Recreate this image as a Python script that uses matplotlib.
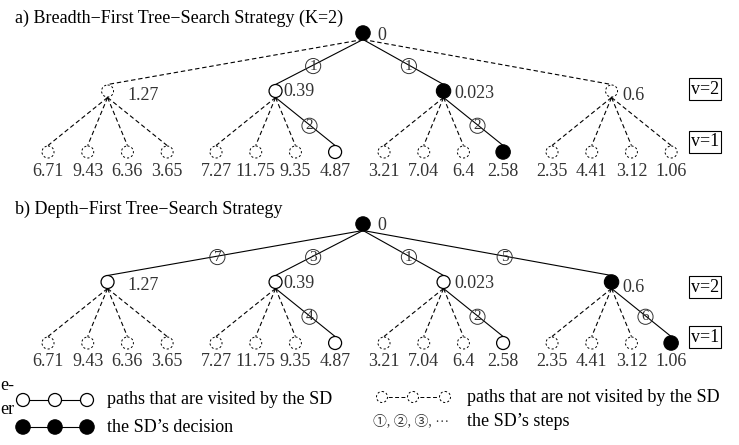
import matplotlib
matplotlib.use("Agg")
import matplotlib.pyplot as plt
from matplotlib.patches import Circle

plt.rcParams['font.family'] = ['Liberation Serif', 'Noto Sans CJK SC']

# data
root_val = "0"
mid_vals = ["1.27", "0.39", "0.023", "0.6"]
leaf_vals = ["6.71", "9.43", "6.36", "3.65", "7.27", "11.75", "9.35", "4.87",
             "3.21", "7.04", "6.4", "2.58", "2.35", "4.41", "3.12", "1.06"]

titles = ["a) Breadth\u2212First Tree\u2212Search Strategy (K=2)",
          "b) Depth\u2212First Tree\u2212Search Strategy"]

# node states: "fill" = SD decision, "open" = visited, "dash" = not visited
mid_state_a = ["dash", "open", "fill", "dash"]
mid_steps_a = [None, 1, 1, None]
leaf_state_a = {7: "open", 11: "fill"}
leaf_steps_a = {7: 2, 11: 2}

mid_state_b = ["open", "open", "open", "fill"]
mid_steps_b = [7, 3, 1, 5]
leaf_state_b = {7: "open", 11: "open", 15: "fill"}
leaf_steps_b = {7: 4, 11: 2, 15: 6}

W, H = 739, 445
R = 6.5
DASH = (0, (4, 2.5))
LBL = "#333333"
FS = 13

fig = plt.figure(figsize=(W / 100, H / 100), dpi=100)
ax = fig.add_axes([0, 0, 1, 1])
ax.set_xlim(0, W)
ax.set_ylim(H, 0)
ax.set_aspect("equal")
ax.axis("off")


def node(x, y, state, r=R):
    if state == "fill":
        ax.add_patch(Circle((x, y), r + 0.7, fc="black", ec="black", lw=0.8, zorder=3))
    elif state == "open":
        ax.add_patch(Circle((x, y), r, fc="white", ec="black", lw=0.9, zorder=3))
    else:
        ax.add_patch(Circle((x, y), r - 0.5, fc="white", ec="black", lw=0.7,
                            ls=(0, (2.2, 2.2)), zorder=3))


def edge(p, c, visited, r=R):
    ls = "-" if visited else DASH
    ax.plot([p[0], c[0]], [p[1] + r, c[1] - r], color="black", lw=0.8, ls=ls, zorder=1)


def step(p, c, n, frac=0.57):
    x = p[0] + (c[0] - p[0]) * frac
    y = p[1] + (c[1] - p[1]) * frac
    ax.text(x, y, str(n), ha="center", va="center", fontsize=11, color=LBL, zorder=4,
            bbox=dict(boxstyle="circle,pad=0.07", fc="none", ec="#333333", lw=0.7))


def vbox(x, y, s):
    ax.text(x, y, s, ha="center", va="center", fontsize=FS,
            bbox=dict(boxstyle="square,pad=0.12", fc="white", ec="black", lw=0.8))


def panel(dy, title, mid_state, mid_steps, leaf_state, leaf_steps, vy):
    ax.text(15, 18 + dy, title, ha="left", va="center", fontsize=FS)
    root = (363, 33 + dy)
    leaf_y = 152 + dy
    mid_y = 91 + dy
    leaves = [(48 + g * 168 + j * 39.7, leaf_y) for g in range(4) for j in range(4)]
    mids = [((leaves[4 * g][0] + leaves[4 * g + 3][0]) / 2, mid_y) for g in range(4)]
    lbl_dx = [20, 8, 11, 11]
    lbl_dy = [4, 1, 2, 5]

    for g, m in enumerate(mids):
        edge(root, m, mid_state[g] != "dash")
        if mid_steps[g] is not None:
            step(root, m, mid_steps[g])
        for j in range(4):
            k = 4 * g + j
            st = leaf_state.get(k, "dash")
            edge(m, leaves[k], st != "dash")
            if k in leaf_steps:
                step(m, leaves[k], leaf_steps[k])
            node(leaves[k][0], leaves[k][1], st)
            ax.text(leaves[k][0], leaf_y + 19, leaf_vals[k], ha="center", va="center",
                    fontsize=FS, color=LBL)
        node(m[0], m[1], mid_state[g])
        ax.text(m[0] + lbl_dx[g], m[1] + lbl_dy[g], mid_vals[g], ha="left", va="center",
                fontsize=FS, color=LBL)
    node(root[0], root[1], "fill")
    ax.text(root[0] + 14, root[1] + 2, root_val, ha="left", va="center", fontsize=FS, color=LBL)
    vbox(705, vy[0], "v=2")
    vbox(705, vy[1], "v=1")


panel(0, titles[0], mid_state_a, mid_steps_a, leaf_state_a, leaf_steps_a, (89, 142))
panel(191, titles[1], mid_state_b, mid_steps_b, leaf_state_b, leaf_steps_b, (287, 337))

# legend
lx = [23, 55, 87]
ax.plot([lx[0], lx[-1]], [400, 400], color="black", lw=0.8, zorder=1)
ax.plot([lx[0], lx[-1]], [427, 427], color="black", lw=0.8, zorder=1)
for x in lx:
    node(x, 400, "open")
    node(x, 427, "fill")
ax.text(107, 400, "paths that are visited by the SD", ha="left", va="center", fontsize=FS)
ax.text(107, 427, "the SD\u2019s decision", ha="left", va="center", fontsize=FS)

dx = [382, 413, 445]
ax.plot([dx[0], dx[-1]], [397, 397], color="black", lw=0.7, ls=DASH, zorder=1)
for x in dx:
    node(x, 397, "dash", r=6)
ax.text(467, 397, "paths that are not visited by the SD", ha="left", va="center", fontsize=FS)
ax.text(373, 421, "\u2460, \u2461, \u2462, \u00b7\u00b7\u00b7", ha="left", va="center",
        fontsize=10, color=LBL)
ax.text(467, 421, "the SD\u2019s steps", ha="left", va="center", fontsize=FS)

# text clipped at the left edge of the original figure
ax.text(0, 386, "e-", ha="left", va="center", fontsize=FS)
ax.text(0, 409, "er", ha="left", va="center", fontsize=FS)

fig.savefig("out.png", dpi=100)
